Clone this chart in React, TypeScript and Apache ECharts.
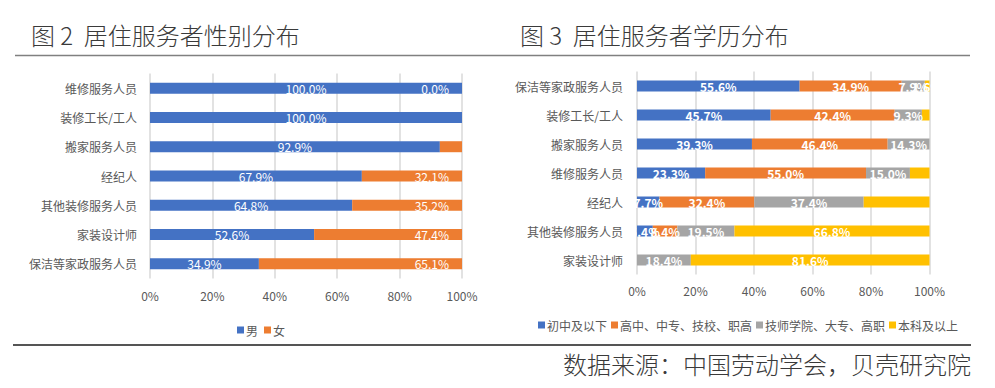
import React, { useEffect, useRef } from "react";
import * as echarts from "echarts";

// ---- Figure 2: gender ----
const genderCategories = ["维修服务人员", "装修工长/工人", "搬家服务人员", "经纪人", "其他装修服务人员", "家装设计师", "保洁等家政服务人员"];
const maleValues = [100.0, 100.0, 92.9, 67.9, 64.8, 52.6, 34.9];
const femaleValues = [0.0, 0.0, 7.1, 32.1, 35.2, 47.4, 65.1];
const femaleHiddenLabels = [1, 2];
const genderNames = ["男", "女"];

// ---- Figure 3: education ----
const eduCategories = ["保洁等家政服务人员", "装修工长/工人", "搬家服务人员", "维修服务人员", "经纪人", "其他装修服务人员", "家装设计师"];
const eduNames = ["初中及以下", "高中、中专、技校、职高", "技师学院、大专、高职", "本科及以上"];
const eduJunior = [55.6, 45.7, 39.3, 23.3, 7.7, 5.4, 0];
const eduHigh = [34.9, 42.4, 46.4, 55.0, 32.4, 8.4, 0];
const eduCollege = [7.9, 9.3, 14.3, 15.0, 37.4, 19.5, 18.4];
const eduBachelor = [1.6, 2.6, 0, 6.7, 22.5, 66.8, 81.6];
const eduHiddenLabels = [[6], [6], [], [1, 2, 3, 4]];

const xTicks = [0, 20, 40, 60, 80, 100];

const title2 = "图 2  居住服务者性别分布";
const title3 = "图 3  居住服务者学历分布";
const sourceText = "数据来源：中国劳动学会，贝壳研究院";

const COLORS = ["#4472C4", "#ED7D31", "#A5A5A5", "#FFC000"];
const FONT = "'Noto Sans CJK SC', 'Noto Sans', sans-serif";
const AXIS_COLOR = "#595959";

const fmt = (p: any) => Number(p.value).toFixed(1) + "%";

function withHidden(values: number[], hidden: number[]) {
  return values.map((v, i) => (hidden.includes(i) ? { value: v, label: { show: false } } : v));
}

export default function App() {
  const ref = useRef<HTMLDivElement>(null);
  useEffect(() => {
    document.body.style.margin = "0";
    if (!ref.current) return;
    const chart = echarts.init(ref.current, null, { renderer: "svg" });

    const valueAxis = (gridIndex: number, margin: number) => ({
      type: "value",
      gridIndex,
      min: xTicks[0],
      max: xTicks[xTicks.length - 1],
      interval: 20,
      axisLine: { show: false },
      axisTick: { show: false },
      axisLabel: { formatter: "{value}%", color: AXIS_COLOR, fontSize: 12, margin, fontFamily: FONT },
      splitLine: { show: true, lineStyle: { color: "#D9D9D9", width: 1.5 } },
    });

    const catAxis = (gridIndex: number, data: string[], margin: number) => ({
      type: "category",
      gridIndex,
      data,
      inverse: true,
      axisLine: { show: false },
      axisTick: { show: false },
      axisLabel: { color: AXIS_COLOR, fontSize: 12, margin, fontFamily: FONT },
    });

    const eduSeriesData = [eduJunior, eduHigh, eduCollege, eduBachelor];

    const option: any = {
      animation: false,
      textStyle: { fontFamily: FONT },
      color: COLORS,
      grid: [
        { left: 150, width: 312, top: 73.5, height: 205, containLabel: false },
        { left: 637, width: 292.5, top: 71.5, height: 203, containLabel: false },
      ],
      xAxis: [valueAxis(0, 11), valueAxis(1, 10)],
      yAxis: [catAxis(0, genderCategories, 13), catAxis(1, eduCategories, 14)],
      legend: [
        {
          data: genderNames,
          left: 232,
          top: 319,
          icon: "rect",
          itemWidth: 7,
          itemHeight: 7,
          itemGap: 6,
          textStyle: { color: AXIS_COLOR, fontSize: 12, fontFamily: FONT, padding: [0, 0, 0, -3] },
        },
        {
          data: eduNames,
          left: 533,
          top: 314,
          icon: "rect",
          itemWidth: 7,
          itemHeight: 7,
          itemGap: 4,
          textStyle: { color: AXIS_COLOR, fontSize: 12, fontFamily: FONT, padding: [0, 0, 0, -3] },
        },
      ],
      series: [
        {
          name: genderNames[0],
          type: "bar",
          stack: "g",
          xAxisIndex: 0,
          yAxisIndex: 0,
          barWidth: 11,
          data: maleValues,
          itemStyle: { color: COLORS[0] },
          label: { show: true, position: "inside", color: "#fff", fontSize: 12, formatter: fmt },
        },
        {
          name: genderNames[1],
          type: "bar",
          stack: "g",
          xAxisIndex: 0,
          yAxisIndex: 0,
          barWidth: 11,
          data: withHidden(femaleValues, femaleHiddenLabels),
          itemStyle: { color: COLORS[1] },
          label: { show: true, position: "insideRight", distance: 13, color: "#fff", fontSize: 12, formatter: fmt },
        },
        ...eduNames.map((name, k) => ({
          name,
          type: "bar",
          stack: "e",
          xAxisIndex: 1,
          yAxisIndex: 1,
          barWidth: 11,
          data: withHidden(eduSeriesData[k], eduHiddenLabels[k]),
          itemStyle: { color: COLORS[k] },
          label: { show: true, position: "inside", color: "#fff", fontSize: 12, fontWeight: "bold", formatter: fmt },
        })),
      ],
      graphic: [
        { type: "line", shape: { x1: 15, y1: 55.5, x2: 970, y2: 55.5 }, style: { stroke: "#808080", lineWidth: 1.5 } },
        { type: "line", shape: { x1: 13, y1: 345, x2: 971, y2: 345 }, style: { stroke: "#555555", lineWidth: 2 } },
        {
          type: "text",
          left: 31,
          top: 22,
          style: { text: title2, fontSize: 24, fontWeight: 300, fill: "#3a3a3a", fontFamily: FONT },
        },
        {
          type: "text",
          left: 520,
          top: 22,
          style: { text: title3, fontSize: 24, fontWeight: 300, fill: "#3a3a3a", fontFamily: FONT },
        },
        {
          type: "text",
          right: 24,
          top: 351,
          style: { text: sourceText, fontSize: 24, fontWeight: 300, fill: "#3a3a3a", fontFamily: FONT },
        },
      ],
    };
    chart.setOption(option);
    return () => chart.dispose();
  }, []);
  return <div ref={ref} style={{ width: 995, height: 388 }} />;
}
